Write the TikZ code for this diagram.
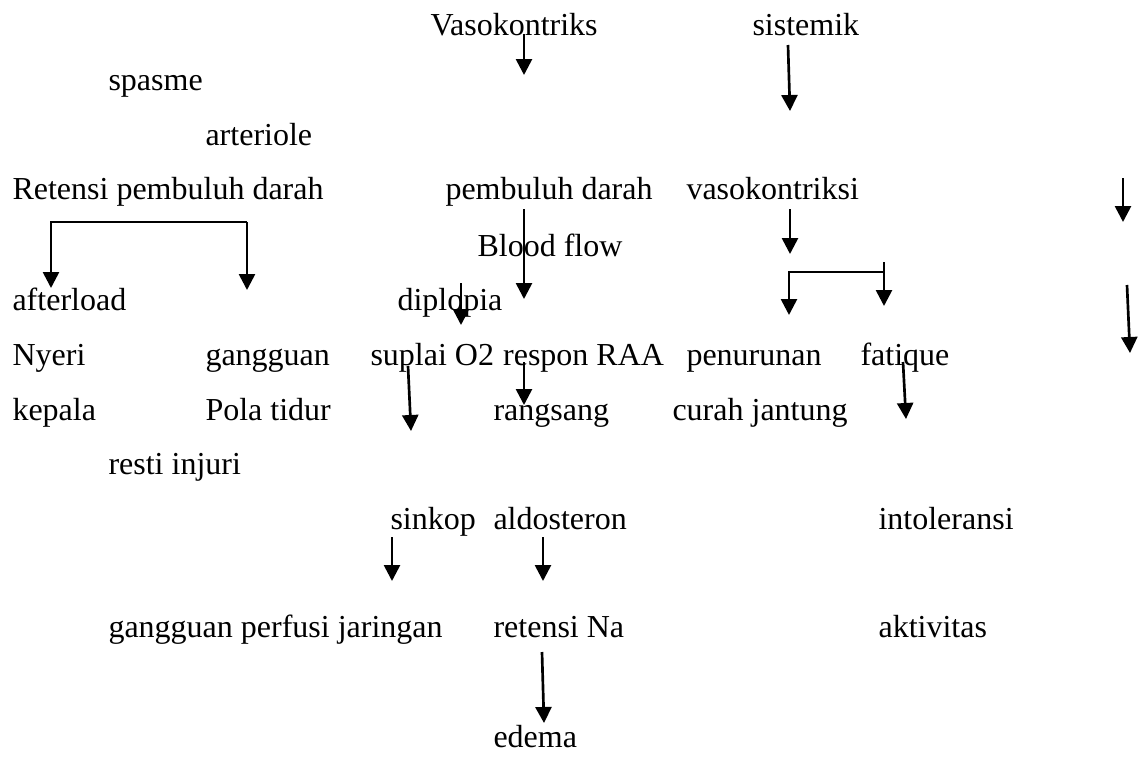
\documentclass[tikz,border=0pt]{standalone}
\usepackage{fontspec}
\setmainfont{Liberation Serif}
\usetikzlibrary{arrows.meta, calc}

\begin{document}
\begin{tikzpicture}[
  x=0.375pt, y=-0.375pt,
  term/.style={anchor=base west, inner sep=0pt,
    font=\fontsize{12}{14}\selectfont},
  flow/.style={line width=1pt, -{Triangle[length=6pt, width=6pt]}},
]
\useasboundingbox (0,0) rectangle (1139,761);

% terms, row by row (baselines)
\node[term] (vasok) at (430,35) {Vasokontriks};
\node[term] (sistemik) at (752,35) {sistemik};
\node[term] (spasme) at (108,90) {spasme};
\node[term] (arteriole) at (205,145) {arteriole};
\node[term] (retensi) at (12,199) {Retensi pembuluh darah};
\node[term] (pembuluh) at (445,199) {pembuluh darah};
\node[term] (vasoksi) at (686,199) {vasokontriksi};
\node[term] (bloodflow) at (477,256) {Blood flow};
\node[term] (afterload) at (12,310) {afterload};
\node[term] (diplopia) at (397,310) {diplopia};
\node[term] (nyeri) at (12,365) {Nyeri};
\node[term] (gangguan) at (205,365) {gangguan};
\node[term] (suplai) at (370,365) {suplai O2};
\node[term] (respon) at ($(suplai.base east)+(8,0)$) {respon RAA};
\node[term] (penurunan) at (686,365) {penurunan};
\node[term] (fatique) at (860,365) {fatique};
\node[term] (kepala) at (12,420) {kepala};
\node[term] (polatidur) at (205,420) {Pola tidur};
\node[term] (rangsang) at (493,420) {rangsang};
\node[term] (curah) at (672,420) {curah jantung};
\node[term] (resti) at (108,474) {resti injuri};
\node[term] (sinkop) at (390,529) {sinkop};
\node[term] (aldosteron) at (493,529) {aldosteron};
\node[term] (intoleransi) at (878,529) {intoleransi};
\node[term] (perfusi) at (108,637) {gangguan perfusi jaringan};
\node[term] (retensina) at (493,637) {retensi Na};
\node[term] (aktivitas) at (878,637) {aktivitas};
\node[term] (edema) at (493,747) {edema};

% arrow ends
\coordinate (vasokA) at (524,34);   \coordinate (vasokB) at (524,75);
\coordinate (sistA) at (788,45);    \coordinate (sistB) at (790,111);
\coordinate (edgeA) at (1123,178);  \coordinate (edgeB) at (1123,222);
\coordinate (edgeC) at (1127,285);  \coordinate (edgeD) at (1130,353);
\coordinate (pembA) at (524,209);   \coordinate (pembB) at (524,299);
\coordinate (vksA) at (790,209);    \coordinate (vksB) at (790,254);
\coordinate (diplA) at (461,283);   \coordinate (diplB) at (461,325);
\coordinate (supA) at (408,366);    \coordinate (supB) at (411,431);
\coordinate (resA) at (524,362);    \coordinate (resB) at (524,405);
\coordinate (fatA) at (903,362);    \coordinate (fatB) at (906,419);
\coordinate (sinA) at (392,537);    \coordinate (sinB) at (392,581);
\coordinate (aldA) at (543,537);    \coordinate (aldB) at (543,581);
\coordinate (naA) at (542,652);     \coordinate (naB) at (544,723);

% brackets
\coordinate (retL) at (51,222);     \coordinate (retR) at (247,222);
\coordinate (retLB) at (51,288);    \coordinate (retRB) at (247,290);
\coordinate (brL) at (789,272);     \coordinate (brR) at (884,272);
\coordinate (brLB) at (789,315);    \coordinate (brRT) at (884,262);
\coordinate (brRB) at (884,306);

% arrows
\draw[flow] (vasokA) -- (vasokB);
\draw[flow] (sistA) -- (sistB);
\draw[flow] (edgeA) -- (edgeB);
\draw[flow] (edgeC) -- (edgeD);
\draw[flow] (pembA) -- (pembB);
\draw[flow] (vksA) -- (vksB);
\draw[flow] (diplA) -- (diplB);
\draw[flow] (supA) -- (supB);
\draw[flow] (resA) -- (resB);
\draw[flow] (fatA) -- (fatB);
\draw[flow] (sinA) -- (sinB);
\draw[flow] (aldA) -- (aldB);
\draw[flow] (naA) -- (naB);

\draw[flow] (retR) -- (retL) -- (retLB);
\draw[flow] (retR) -- (retRB);
\draw[flow] (brR) -- (brL) -- (brLB);
\draw[flow] (brRT) -- (brRB);

\end{tikzpicture}
\end{document}
